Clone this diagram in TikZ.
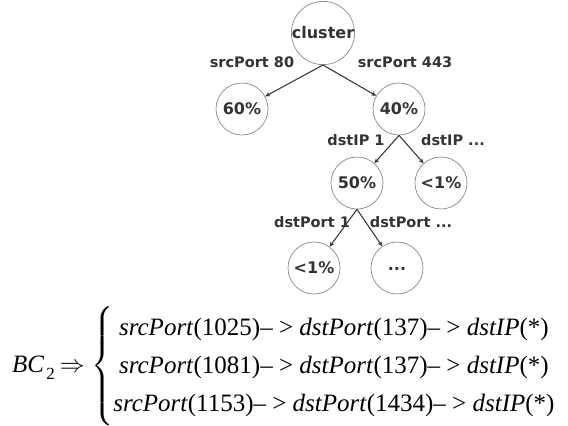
\documentclass[tikz,border=0pt]{standalone}
\usepackage{amsmath}
\usepackage{fontspec}
\setmainfont{Liberation Serif}
\newfontfamily\treefont{DejaVu Sans}
\usetikzlibrary{arrows.meta}
\definecolor{treetext}{HTML}{333333}
\definecolor{circline}{HTML}{8A8A8A}
\definecolor{edgecol}{HTML}{3A3A3A}
\tikzset{
  circ/.style={circle, draw=circline, line width=0.7pt, minimum size=52pt, inner sep=0pt,
    font=\treefont\bfseries\fontsize{16}{18}\selectfont, text=treetext},
  lbl/.style={font=\treefont\bfseries\fontsize{14.5}{16}\selectfont, text=treetext, inner sep=0pt},
  arr/.style={draw=edgecol, line width=1.1pt, -{Stealth[length=5pt,width=4.5pt]}}
}
\begin{document}
\begin{tikzpicture}[x=1pt,y=-1pt]
\useasboundingbox (0,0) rectangle (568,426);
% tree nodes
\node[circ] (c) at (323,33) {cluster};
\node[circ] (p60) at (242,109) {60\%};
\node[circ] (p40) at (399,109) {40\%};
\node[circ] (p50) at (357,183) {50\%};
\node[circ] (pr1) at (441,183) {<1\%};
\node[circ] (pb1) at (314,268) {<1\%};
\node[circ] (pdots) at (397,268) {\raisebox{-4pt}{...}};
% edges
\draw[arr] (c.south) -- (p60);
\draw[arr] (c.south) -- (p40);
\draw[arr] (p40.south) -- (p50);
\draw[arr] (p40.south) -- (pr1);
\draw[arr] (p50.south) -- (pb1);
\draw[arr] (p50.south) -- (pdots);
% edge labels
\node[lbl] (l1) at (252,62) {srcPort 80};
\node[lbl] (l2) at (405,62) {srcPort 443};
\node[lbl] (l3) at (356,140) {dstIP 1};
\node[lbl] (l4) at (453,140) {dstIP ...};
\node[lbl] (l5) at (312,222) {dstPort 1};
\node[lbl] (l6) at (411,222) {dstPort ...};
% formula
\node[anchor=west, inner sep=0pt] (bc) at (12,368) {\fontsize{25}{30}\selectfont\textit{BC}\hspace{2pt}\raisebox{-7pt}{\fontsize{17}{20}\selectfont 2}\hspace{5pt}$\Rightarrow$};
\node[anchor=west, inner sep=0pt] (f) at (91,366) {\fontsize{25}{38}\selectfont
$\left\{\renewcommand{\arraystretch}{1.0}\begin{array}{@{}c@{}}
\text{\textit{srcPort}(1025)– > \textit{dstPort}(137)– > \textit{dstIP}(*)}\\
\text{\textit{srcPort}(1081)– > \textit{dstPort}(137)– > \textit{dstIP}(*)}\\
\text{\textit{srcPort}(1153)– > \textit{dstPort}(1434)– > \textit{dstIP}(*)}
\end{array}\right.$};
\end{tikzpicture}
\end{document}
